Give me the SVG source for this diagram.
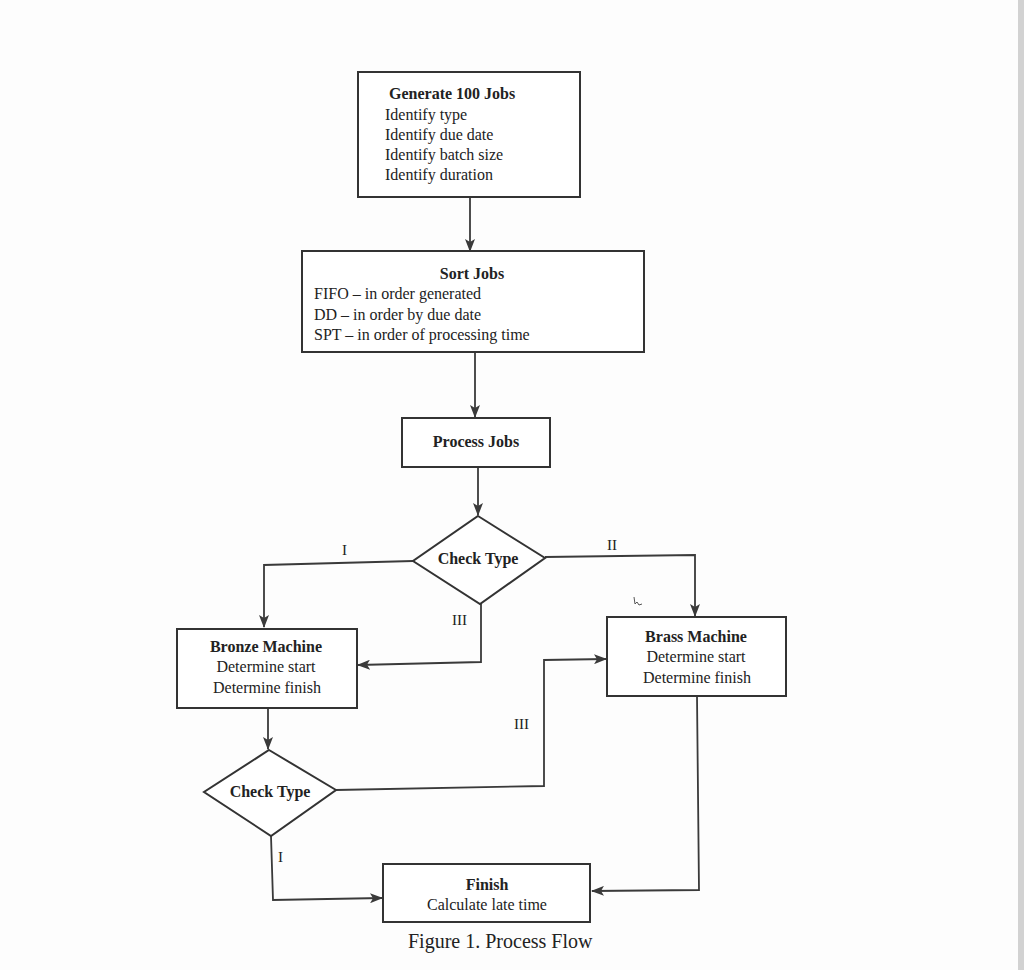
<svg xmlns="http://www.w3.org/2000/svg" width="1024" height="970" viewBox="0 0 1024 970">
<defs>
<marker id="ah" viewBox="0 0 13 10" refX="12" refY="5" markerWidth="13" markerHeight="10" markerUnits="userSpaceOnUse" orient="auto">
<path d="M0,0 L13,5 L0,10 L3,5 Z" fill="#3a3a3a"/>
</marker>
</defs>
<style>
.box{fill:#fff;stroke:#333;stroke-width:2}
.conn{fill:none;stroke:#3a3a3a;stroke-width:1.8}
text{font-family:"Liberation Serif","Times New Roman",serif;fill:#222;font-size:16px}
.b{font-weight:bold}
.c{text-anchor:middle}
.lbl{font-size:15px}
</style>
<rect x="0" y="0" width="1024" height="970" fill="#fdfdfd"/>
<rect x="1018" y="0" width="6" height="970" fill="#d2d2d2"/>
<g id="connectors">
<path class="conn" d="M470,197 V251" marker-end="url(#ah)"/>
<path class="conn" d="M475,352 V417" marker-end="url(#ah)"/>
<path class="conn" d="M478,467 V515" marker-end="url(#ah)"/>
<path class="conn" d="M413,561 L264,565 V627" marker-end="url(#ah)"/>
<path class="conn" d="M545,557 L695,555 V616" marker-end="url(#ah)"/>
<path class="conn" d="M481,604 V662 L358,665" marker-end="url(#ah)"/>
<path class="conn" d="M268,708 V749" marker-end="url(#ah)"/>
<path class="conn" d="M336,790 L544,786 V660 L606,659" marker-end="url(#ah)"/>
<path class="conn" d="M271,836 L273,900 L382,898" marker-end="url(#ah)"/>
<path class="conn" d="M697,696 L699,890 L592,891" marker-end="url(#ah)"/>
<text class="lbl" x="342" y="555">I</text>
<text class="lbl" x="607" y="550">II</text>
<text class="lbl" x="452" y="625">III</text>
<text class="lbl" x="514" y="729">III</text>
<text class="lbl" x="278" y="862">I</text>
<path d="M634,597 l1,7 l2,-2 l2,3 l3,-1" fill="none" stroke="#555" stroke-width="1"/>
</g>
<g id="generate">
<rect class="box" x="358" y="72" width="222" height="125"/>
<text class="b" x="389" y="99">Generate 100 Jobs</text>
<text x="385" y="120">Identify type</text>
<text x="385" y="140">Identify due date</text>
<text x="385" y="160">Identify batch size</text>
<text x="385" y="180">Identify duration</text>
</g>
<g id="sort">
<rect class="box" x="302" y="251" width="342" height="101"/>
<text class="b c" x="472" y="279">Sort Jobs</text>
<text x="314" y="299">FIFO – in order generated</text>
<text x="314" y="320">DD – in order by due date</text>
<text x="314" y="340">SPT – in order of processing time</text>
</g>
<g id="process">
<rect class="box" x="402" y="418" width="148" height="49"/>
<text class="b c" x="476" y="447">Process Jobs</text>
</g>
<g id="check1">
<polygon class="box" points="478,516 545,558 480,604 413,561"/>
<text class="b c" x="478" y="564">Check Type</text>
</g>
<g id="bronze">
<rect class="box" x="177" y="629" width="180" height="79"/>
<text class="b c" x="266" y="652">Bronze Machine</text>
<text class="c" x="266" y="672">Determine start</text>
<text class="c" x="267" y="693">Determine finish</text>
</g>
<g id="brass">
<rect class="box" x="607" y="617" width="179" height="79"/>
<text class="b c" x="696" y="642">Brass Machine</text>
<text class="c" x="696" y="662">Determine start</text>
<text class="c" x="697" y="683">Determine finish</text>
</g>
<g id="check2">
<polygon class="box" points="269,750 336,790 271,836 204,792"/>
<text class="b c" x="270" y="797">Check Type</text>
</g>
<g id="finish">
<rect class="box" x="383" y="864" width="207" height="58"/>
<text class="b c" x="487" y="890">Finish</text>
<text class="c" x="487" y="910">Calculate late time</text>
</g>
<text x="408" y="948" style="font-size:20px">Figure 1. Process Flow</text>
</svg>
